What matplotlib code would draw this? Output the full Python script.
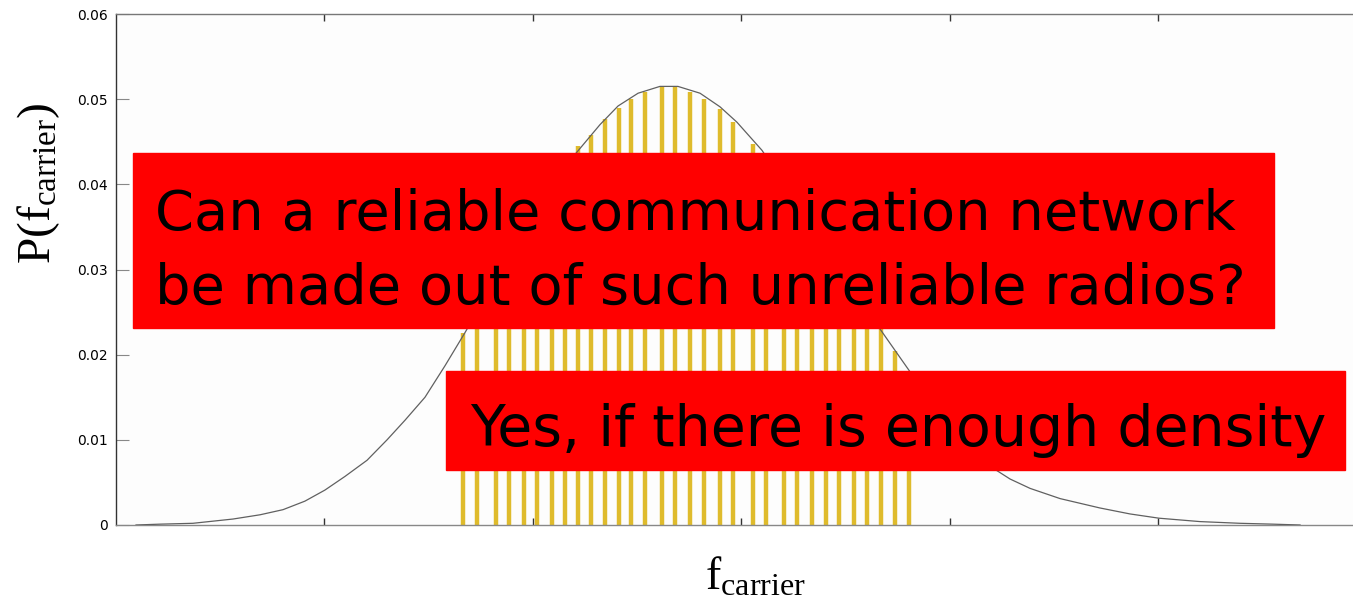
import matplotlib
matplotlib.use("Agg")
import matplotlib.pyplot as plt
from matplotlib.patches import Rectangle

plt.rcParams['mathtext.fontset'] = 'custom'
plt.rcParams['mathtext.rm'] = 'Liberation Serif'
plt.rcParams['mathtext.it'] = 'Liberation Serif:italic'

# sampled carrier frequencies (one stem per radio) and their probability
stem_x = [1.666, 1.730, 1.823, 1.886, 1.957, 2.021, 2.090, 2.154, 2.214, 2.277,
          2.347, 2.413, 2.472, 2.537, 2.619, 2.683, 2.754, 2.819, 2.898, 2.961,
          3.057, 3.118, 3.202, 3.266, 3.338, 3.404, 3.468, 3.538, 3.602, 3.669,
          3.738, 3.802]
stem_p = [0.0226, 0.0250, 0.0290, 0.0318, 0.0346, 0.0370, 0.0395, 0.0422, 0.0445, 0.0458,
          0.0477, 0.0490, 0.0500, 0.0508, 0.0514, 0.0514, 0.0508, 0.0500, 0.0488, 0.0473,
          0.0447, 0.0428, 0.0400, 0.0378, 0.0352, 0.0326, 0.0300, 0.0275, 0.0252, 0.0232,
          0.0204, 0.0180]

# distribution of the carrier frequency
curve_x = [0.096, 0.211, 0.369, 0.561, 0.691, 0.801, 0.906, 1.002, 1.098, 1.204,
           1.300, 1.386, 1.482, 1.578, 1.674, 1.760, 1.842, 1.938, 2.034, 2.120,
           2.201, 2.321, 2.408, 2.504, 2.609, 2.695, 2.801, 2.897, 2.978, 3.098,
           3.189, 3.281, 3.376, 3.472, 3.568, 3.679, 3.808, 3.904, 4.000, 4.096,
           4.192, 4.288, 4.384, 4.528, 4.719, 4.863, 5.002, 5.199, 5.391, 5.549,
           5.679]
curve_p = [0.0000, 0.0001, 0.0002, 0.0007, 0.0012, 0.0018, 0.0028, 0.0041, 0.0057, 0.0076,
           0.0100, 0.0123, 0.0150, 0.0187, 0.0226, 0.0262, 0.0297, 0.0336, 0.0372, 0.0405,
           0.0435, 0.0470, 0.0492, 0.0507, 0.0515, 0.0515, 0.0507, 0.0491, 0.0473, 0.0440,
           0.0407, 0.0373, 0.0337, 0.0299, 0.0264, 0.0225, 0.0180, 0.0146, 0.0115, 0.0090,
           0.0069, 0.0054, 0.0043, 0.0031, 0.0020, 0.0013, 0.0008, 0.0004, 0.0002, 0.0001,
           0.0000]

yticks = [0, 0.01, 0.02, 0.03, 0.04, 0.05, 0.06]
ytick_labels = ['0', '0.01', '0.02', '0.03', '0.04', '0.05', '0.06']
xticks = [1, 2, 3, 4, 5]

question = ['Can a reliable communication network',
            'be made out of such unreliable radios?']
answer = 'Yes, if there is enough density'

W, H = 1353, 601
fig = plt.figure(figsize=(W / 100, H / 100), dpi=100)
fig.patch.set_facecolor('white')

def fx(px):
    return px / W

def fy(py):
    return 1 - py / H

# axes run past the right edge of the figure
ax = fig.add_axes([fx(116), fy(525), (1367 - 116) / W, (525 - 14) / H])
ax.set_facecolor('#fdfdfd')

ax.vlines(stem_x, 0, stem_p, colors='#dfbb2c', lw=3.2, zorder=2)
ax.plot(curve_x, curve_p, color='#606060', lw=0.9, zorder=3)

ax.set_xlim(0, 6)
ax.set_ylim(0, 0.06)
ax.set_xticks(xticks)
ax.set_xticklabels([])
ax.set_yticks(yticks)
ax.set_yticklabels(ytick_labels, fontsize=10, family='DejaVu Sans')

ax.tick_params(axis='y', direction='in', length=9.5, width=0.8, color='#888888', pad=6)
ax.tick_params(axis='x', direction='in', length=5, width=1.0, color='#333333',
               top=True, bottom=True)
ax.spines['right'].set_visible(False)
ax.spines['left'].set_color('#333333')
ax.spines['bottom'].set_color('#888888')
ax.spines['top'].set_color('#777777')
for s in ['left', 'bottom', 'top']:
    ax.spines[s].set_linewidth(1.0)

ax.set_ylabel('P(f$_{\\rm carrier}$)', fontsize=34, family='Liberation Serif',
              va='center', ha='center')
ax.yaxis.set_label_coords(-0.062, 0.669)
ax.set_xlabel('f$_{\\rm carrier}$', fontsize=33, family='Liberation Serif',
              va='center', ha='center')
ax.xaxis.set_label_coords(0.511, -0.104)

# red callout boxes on top of the plot
fig.add_artist(Rectangle((fx(133), fy(328)), (1274 - 133) / W, (328 - 153) / H,
                         transform=fig.transFigure, color='#ff0000', zorder=5))
fig.text(fx(155), fy(230), question[0], fontsize=40.2, family='DejaVu Sans',
         va='baseline', ha='left', zorder=6)
fig.text(fx(155), fy(304), question[1], fontsize=40.2, family='DejaVu Sans',
         va='baseline', ha='left', zorder=6)

fig.add_artist(Rectangle((fx(446), fy(470)), (1345 - 446) / W, (470 - 371) / H,
                         transform=fig.transFigure, color='#ff0000', zorder=5))
fig.text(fx(470), fy(446), answer, fontsize=41, family='DejaVu Sans',
         va='baseline', ha='left', zorder=6)

fig.savefig('out.png', dpi=100)
